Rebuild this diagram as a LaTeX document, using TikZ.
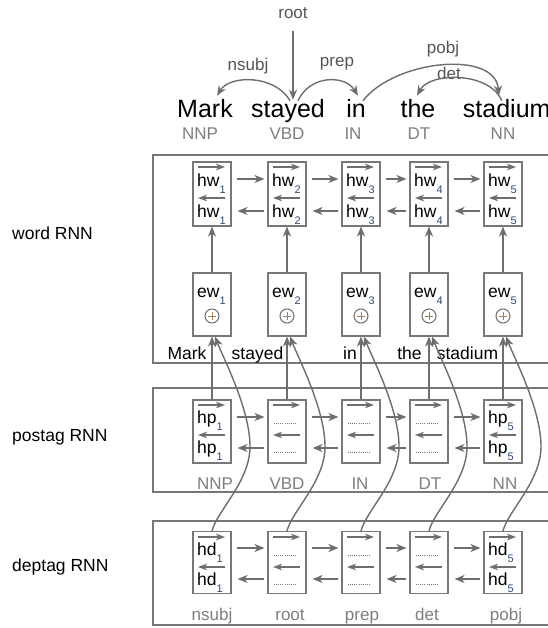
\documentclass[tikz,border=0pt]{standalone}
\usepackage{fontspec}
\setmainfont{Liberation Sans}
\usetikzlibrary{arrows.meta,calc}
\definecolor{lg}{HTML}{6E6E6E}
\definecolor{bx}{HTML}{777777}
\definecolor{tg}{HTML}{7F7F7F}
\definecolor{dk}{HTML}{555555}
\definecolor{subc}{HTML}{2F4A7A}
\newcommand\mysub[1]{\raisebox{-7pt}{\fontsize{11}{11}\selectfont\color{subc}#1}}
\newcommand\fs[1]{\fontsize{#1}{#1}\selectfont}
\begin{document}
\begin{tikzpicture}[x=1pt,y=-1pt,
  arr/.style={draw=lg,line width=1.4pt,-{Stealth[length=10pt,width=8pt,inset=3pt]}},
  inarr/.style={draw=lg,line width=1.4pt,-{Stealth[length=9pt,width=6.5pt,inset=2.5pt]}},
  cell/.style={draw=bx,line width=1.1pt,minimum width=38pt,minimum height=64pt,inner sep=0pt},
  outer/.style={draw=bx,line width=1.1pt},
  txt/.style={inner sep=0pt,font=\fs{17.5}},
  bigw/.style={inner sep=0pt,font=\fs{25}},
  tag/.style={inner sep=0pt,font=\fs{17},text=tg},
  arclab/.style={inner sep=0pt,font=\fs{17},text=dk},
  dots/.style={draw=bx,line width=0.8pt,dash pattern=on 0.8pt off 1.3pt},
  oplus/.style={draw=lg,line width=1pt}
]
\useasboundingbox (0,0) rectangle (547,628);
\fill[white] (0,0) rectangle (547,628);

% outer frames
\draw[outer] (153,155) rectangle (575,363);
\draw[outer] (153,388) rectangle (575,492);
\draw[outer] (153,521) rectangle (575,625);

% left labels
\node[txt,anchor=west] (lw) at (12,233) {word RNN};
\node[txt,anchor=west] (lp) at (12,437) {postag RNN};
\node[txt,anchor=west] (ld) at (12,567) {deptag RNN};

% top sentence
\foreach \x/\w/\tx/\t [count=\i] in {205/Mark/200/NNP, 288/stayed/287/VBD, 356/in/353/IN, 418/the/419/DT, 506.75/stadium/503/NN} {
  \node[bigw,anchor=base] (tw\i) at (\x,118) {\w};
  \node[tag,anchor=base] (tt\i) at (\tx,140) {\t};
}

% dependency arcs
\node[arclab] (rootl) at (293,13) {root};
\node[arclab] (nsubjl) at (248,66) {nsubj};
\node[arclab] (prepl) at (337,64) {prep};
\node[arclab] (pobjl) at (443,49) {pobj};
\node[arclab] (detl) at (449,73) {det};
\draw[arr,shorten <=12pt] (rootl.south) -- ($(tw2.north)+(5,0)$);
\draw[arr] ($(tw2.north)+(2,1)$) .. controls +(-15,-26) and +(13,-21) .. ($(tw1.north)+(12,-4)$);
\draw[arr] ($(tw2.north)+(10,1)$) .. controls +(12,-26) and +(-13,-21) .. ($(tw3.north)+(2,-4)$);
\draw[arr] ($(tw3.north)+(7,1)$) .. controls +(32,-41) and +(-3,-46) .. ($(tw5.north)+(-8,-4)$);
\draw[arr] ($(tw5.north)+(-5,1)$) .. controls +(-12,-29) and +(13,-24) .. ($(tw4.north)+(-1,-4)$);

% cells
\foreach \c/\w/\wx/\t/\tx/\d/\dx [count=\i] in {212/Mark/187/NNP/215/nsubj/212, 287/stayed/257.5/VBD/287/root/290, 361/in/350/IN/360/prep/362, 429/the/409.5/DT/430/det/427, 503/stadium/467.5/NN/505/pobj/506} {
  % word RNN
  \node[cell] (hw\i) at (\c,194) {};
  \draw[inarr] (\c-14,167) -- (\c+13,167);
  \node[txt,anchor=base west] at (\c-15,186) {hw\mysub{\i}};
  \draw[inarr] (\c+13,198) -- (\c-14,198);
  \node[txt,anchor=base west] at (\c-15,217) {hw\mysub{\i}};
  \node[cell,minimum height=63pt] (ew\i) at (\c,304.5) {};
  \node[txt,anchor=base west] at (\c-15,297) {ew\mysub{\i}};
  \draw[oplus] (\c,316) circle[radius=7pt];
  \draw[oplus,draw=brown!60!gray] (\c-4,316) -- (\c+4,316) (\c,312) -- (\c,320);
  \node[txt,anchor=base] (wl\i) at (\wx,359) {\w};
  \draw[arr] (ew\i.north) -- (hw\i.south);
  % postag RNN
  \node[cell,minimum height=63pt] (hp\i) at (\c,431.5) {};
  \draw[inarr] (\c-14,405) -- (\c+13,405);
  \node[tag,anchor=base] (pt\i) at (\tx,489) {\t};
  \draw[arr] (hp\i.north) -- (ew\i.south);
  % deptag RNN
  \node[cell,minimum height=62pt] (hd\i) at (\c,562.5) {};
  \draw[inarr] (\c-14,537) -- (\c+13,537);
  \node[tag,anchor=base] (dt\i) at (\dx,620) {\d};
}

% full cells
\foreach \c/\i in {212/1, 503/5} {
  \node[txt,anchor=base west] at (\c-15,423) {hp\mysub{\i}};
  \draw[inarr] (\c+13,435) -- (\c-14,435);
  \node[txt,anchor=base west] at (\c-15,453) {hp\mysub{\i}};
  \node[txt,anchor=base west] at (\c-15,555) {hd\mysub{\i}};
  \draw[inarr] (\c+13,567) -- (\c-14,567);
  \node[txt,anchor=base west] at (\c-15,585) {hd\mysub{\i}};
}
% dotted cells
\foreach \c in {287,361,429} {
  \draw[dots] (\c-13,423) -- (\c+10,423);
  \draw[inarr] (\c+13,435) -- (\c-14,435);
  \draw[dots] (\c-13,452) -- (\c+10,452);
  \draw[dots] (\c-13,555) -- (\c+10,555);
  \draw[inarr] (\c+13,567) -- (\c-14,567);
  \draw[dots] (\c-13,584) -- (\c+10,584);
}

% recurrent connections
\foreach \i/\j in {1/2,2/3,3/4,4/5} {
  \draw[arr,shorten <=5pt,shorten >=3pt] ([yshift=15pt]hw\i.east) -- ([yshift=15pt]hw\j.west);
  \draw[arr,shorten <=3pt,shorten >=6pt] ([yshift=-17pt]hw\j.west) -- ([yshift=-17pt]hw\i.east);
  \draw[arr,shorten <=5pt,shorten >=3pt] ([yshift=14.5pt]hp\i.east) -- ([yshift=14.5pt]hp\j.west);
  \draw[arr,shorten <=3pt,shorten >=6pt] ([yshift=-16.5pt]hp\j.west) -- ([yshift=-16.5pt]hp\i.east);
  \draw[arr,shorten <=5pt,shorten >=3pt] ([yshift=14.5pt]hd\i.east) -- ([yshift=14.5pt]hd\j.west);
  \draw[arr,shorten <=3pt,shorten >=6pt] ([yshift=-16.5pt]hd\j.west) -- ([yshift=-16.5pt]hd\i.east);
}

% deptag to word embedding
\foreach \i in {1,...,5} {
  \draw[arr] (hd\i.north) .. controls +(5,-20) and +(0,35) .. ($(hd\i.north)+(38,-84.5)$)
    .. controls +(0,-37) and +(9,23) .. ($(ew\i.south)+(3,0)$);
}
\end{tikzpicture}
\end{document}
